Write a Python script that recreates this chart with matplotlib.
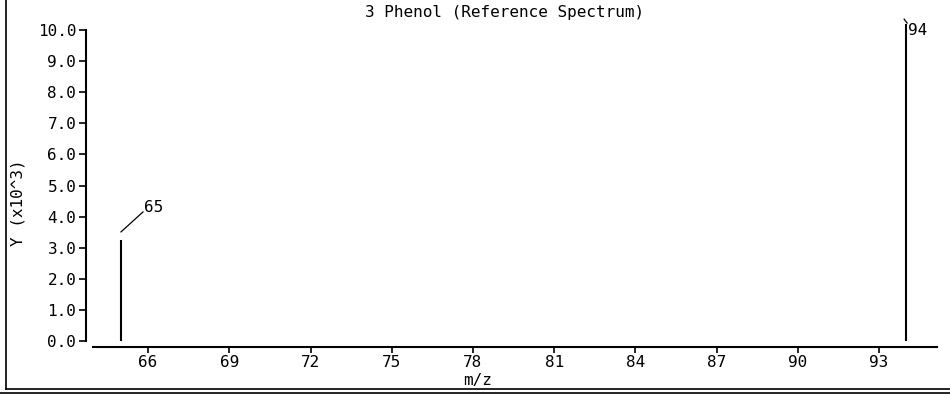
import matplotlib
matplotlib.use("Agg")
import matplotlib.pyplot as plt
from matplotlib.lines import Line2D
from matplotlib.transforms import ScaledTranslation
import numpy as np

# Data
mz_values = [65, 94]
intensities = [3250, 10190]          # raw counts
peak_labels = ["65", "94"]
x_ticks = [66, 69, 72, 75, 78, 81, 84, 87, 90, 93]
y_ticks = [0, 1, 2, 3, 4, 5, 6, 7, 8, 9, 10]
title = "3 Phenol (Reference Spectrum)"
xlabel = "m/z"
ylabel = "Y (x10^3)"

FONT = "DejaVu Sans Mono"
FS = 11.5
W, H = 950, 394

fig = plt.figure(figsize=(9.5, 3.94), dpi=100)
# axes box in pixels: x 93..937, y 29..347 (from top)
ax = fig.add_axes([93 / W, (H - 347) / H, (937 - 93) / W, (347 - 29) / H])

scaled = np.array(intensities) / 1000.0
for mz, v in zip(mz_values, scaled):
    ax.plot([mz, mz], [0, v], color="black", lw=1.5, clip_on=False,
            solid_capstyle="butt")

ax.set_xlim(63.966, 95.14)
ax.set_ylim(-6 / 31.1, 312 / 31.1)

for s in ["top", "right"]:
    ax.spines[s].set_visible(False)
ax.spines["left"].set_position(("outward", 5))
ax.spines["left"].set_bounds(0, 10)
ax.spines["left"].set_linewidth(1.5)
ax.spines["bottom"].set_linewidth(1.5)

ax.set_xticks(x_ticks)
ax.set_xticklabels([str(t) for t in x_ticks], fontfamily=FONT, fontsize=FS)
ax.set_yticks(y_ticks)
ax.set_yticklabels([f"{t:.1f}" for t in y_ticks], fontfamily=FONT, fontsize=FS)
ax.tick_params(axis="x", length=4, width=1.2, pad=2, colors="black")
ax.tick_params(axis="y", length=5, width=1.2, pad=2, colors="black")

# peak labels with leader lines (offsets in pixels)
leaders = {
    "65": ((0, 8), (22, 28), (23, 32)),
    "94": ((-2, 5), (1, 1), (2, -6)),
}
for mz, v, lab in zip(mz_values, scaled, peak_labels):
    (sx, sy), (ex, ey), (tx, ty) = leaders[lab]
    t_start = ax.transData + ScaledTranslation(sx / 100, sy / 100, fig.dpi_scale_trans)
    t_end = ax.transData + ScaledTranslation(ex / 100, ey / 100, fig.dpi_scale_trans)
    p0 = t_start.transform((mz, v))
    p1 = t_end.transform((mz, v))
    inv = fig.transFigure.inverted()
    f0 = inv.transform(p0)
    f1 = inv.transform(p1)
    fig.add_artist(Line2D([f0[0], f1[0]], [f0[1], f1[1]], color="black", lw=0.9,
                          transform=fig.transFigure))
    t_text = ax.transData + ScaledTranslation(tx / 100, ty / 100, fig.dpi_scale_trans)
    ax.text(mz, v, lab, transform=t_text, ha="left", va="center",
            fontfamily=FONT, fontsize=FS, clip_on=False)

fig.text(505 / W, (H - 12) / H, title, ha="center", va="center",
         fontfamily=FONT, fontsize=FS)
fig.text(478 / W, (H - 381) / H, xlabel, ha="center", va="center",
         fontfamily=FONT, fontsize=FS)
fig.text(18 / W, (H - 203) / H, ylabel, ha="center", va="center", rotation=90,
         fontfamily=FONT, fontsize=FS)

# frame lines
fig.add_artist(Line2D([5.5 / W, 5.5 / W], [(H - 389) / H, 1], color="black", lw=1.2,
                      transform=fig.transFigure))
fig.add_artist(Line2D([5.5 / W, 1], [(H - 389) / H, (H - 389) / H], color="black", lw=1.2,
                      transform=fig.transFigure))
fig.add_artist(Line2D([0, 1], [(H - 392.5) / H, (H - 392.5) / H], color="black", lw=1.2,
                      transform=fig.transFigure))

fig.savefig("out.png", dpi=100)
